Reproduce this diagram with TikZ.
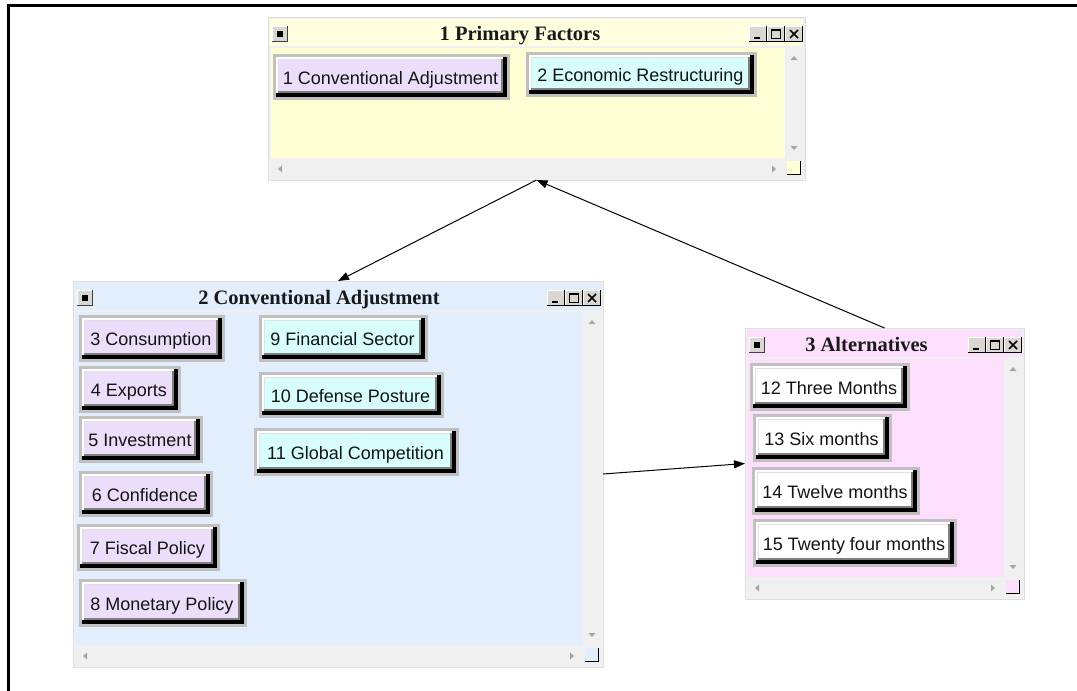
\documentclass[tikz,border=0pt]{standalone}
\usepackage{fontspec}
\setmainfont{Liberation Serif}
\newfontfamily\btnfont{Liberation Sans}
\usetikzlibrary{arrows.meta}
\definecolor{lav}{RGB}{236,222,250}
\definecolor{cya}{RGB}{216,253,253}
\definecolor{ylw}{RGB}{255,255,214}
\definecolor{ylwt}{RGB}{255,255,224}
\definecolor{blu}{RGB}{227,238,252}
\definecolor{pnk}{RGB}{253,222,253}
\definecolor{sgrey}{RGB}{240,240,240}
\definecolor{wborder}{RGB}{222,222,222}
\definecolor{bframe}{RGB}{192,192,192}
\definecolor{bshade}{RGB}{128,128,128}
\definecolor{bhi}{RGB}{225,225,225}
\definecolor{arrgrey}{RGB}{165,165,165}
\definecolor{icongrey}{RGB}{218,215,210}
\tikzset{
  win/.style={draw=wborder, fill=sgrey, inner sep=0pt, outer sep=0pt, line width=1pt},
  btntext/.style={inner sep=0pt, anchor=base, text=black!92, font=\btnfont\fontsize{18}{20}\selectfont},
  ttl/.style={inner sep=0pt, anchor=base, text=black!90, font=\bfseries\fontsize{20.5}{24}\selectfont},
  conn/.style={draw=black, line width=1pt, -{Triangle[length=11pt,width=8pt]}},
}
\newcommand{\mkbtn}[7]{%
  \fill[bframe] (#2,#3) rectangle (#4,#5);
  \fill[black] ({#2+3},{#3+3}) rectangle ({#4-3},{#5-3});
  \fill[white] ({#2+3},{#3+3}) rectangle ({#4-7},{#5-7});
  \fill[bshade] ({#2+5},{#3+5}) rectangle ({#4-7},{#5-7});
  \fill[bhi] ({#2+5},{#3+5}) rectangle ({#4-9},{#5-9});
  \fill[#6] ({#2+6},{#3+6}) rectangle ({#4-9},{#5-9});
  \node[btntext] (#1) at ({(#2+#4)/2-1},{(#3+#5)/2+7}) {#7};
}
\newcommand{\closeicon}[2]{%
  \fill[black!75] (#1,#2) rectangle ({#1+16},{#2+16});
  \fill[white] (#1,#2) rectangle ({#1+15},{#2+15});
  \fill[icongrey] ({#1+1},{#2+1}) rectangle ({#1+15},{#2+15});
  \fill[black] ({#1+5},{#2+5}) rectangle ({#1+11},{#2+11});
}
\newcommand{\onectrl}[2]{%
  \fill[black] (#1,#2) rectangle ({#1+18},{#2+16});
  \fill[white] (#1,#2) rectangle ({#1+17},{#2+15});
  \fill[icongrey] ({#1+1},{#2+1}) rectangle ({#1+17},{#2+15});
}
\newcommand{\ctrlicons}[2]{%
  \onectrl{#1}{#2}\onectrl{#1+18}{#2}\onectrl{#1+36}{#2}
  \draw[line width=2pt] ({#1+5},{#2+11.5}) -- ({#1+11},{#2+11.5});
  \draw[line width=1pt] ({#1+22.5},{#2+3.5}) rectangle ({#1+31.5},{#2+12.5});
  \draw[line width=2pt] ({#1+22.5},{#2+4}) -- ({#1+31.5},{#2+4});
  \draw[line width=1.6pt] ({#1+41},{#2+4}) -- ({#1+49},{#2+12}) ({#1+49},{#2+4}) -- ({#1+41},{#2+12});
}
% name, x1, y1, x2, y2, body colour, title bar colour, title, title centre x
\newcommand{\mkwin}[9]{%
  \pgfmathsetmacro\ww{#4-#2}\pgfmathsetmacro\hh{#5-#3}
  \node[win, minimum width=\ww pt, minimum height=\hh pt] (#1) at ({(#2+#4)/2},{(#3+#5)/2}) {};
  \fill[#7] ({#2+2},{#3+2}) rectangle ({#4-2},{#3+29});
  \fill[#6] ({#2+3},{#3+31}) rectangle ({#4-20},{#5-22});
  \closeicon{#2+4}{#3+9}
  \ctrlicons{#4-56}{#3+9}
  \node[ttl] (#1-title) at (#9,{#3+23.5}) {#8};
  \fill[arrgrey] ({#4-14.5},{#3+43}) -- ({#4-7.5},{#3+43}) -- ({#4-11},{#3+39}) -- cycle;
  \fill[arrgrey] ({#4-14.5},{#5-34}) -- ({#4-7.5},{#5-34}) -- ({#4-11},{#5-30}) -- cycle;
  \fill[arrgrey] ({#2+14},{#5-14.5}) -- ({#2+14},{#5-7.5}) -- ({#2+10},{#5-11}) -- cycle;
  \fill[arrgrey] ({#4-33},{#5-14.5}) -- ({#4-33},{#5-7.5}) -- ({#4-29},{#5-11}) -- cycle;
  \fill[#6] ({#4-18},{#5-19}) rectangle ({#4-4},{#5-5});
  \draw[line width=1.5pt] ({#4-4.75},{#5-19}) -- ({#4-4.75},{#5-5.75}) -- ({#4-18},{#5-5.75});
}
\begin{document}
\begin{tikzpicture}[x=1pt,y=-1pt]
\useasboundingbox[fill=white] (0,0) rectangle (1077,691);
\fill[black] (7,4) rectangle (1077,7);
\fill[black] (7,4) rectangle (10,691);

\mkwin{w1}{268}{17}{805}{180}{ylw}{ylwt}{1 Primary Factors}{520}
\mkwin{w2}{73}{281}{603}{667}{blu}{blu}{2 Conventional Adjustment}{319}
\mkwin{w3}{745}{328}{1024}{599}{pnk}{pnk}{3 Alternatives}{866.5}

\mkbtn{b1}{273}{54}{510}{100}{lav}{1 Conventional Adjustment}
\mkbtn{b2}{526}{52}{757}{97}{cya}{2 Economic Restructuring}

\mkbtn{b3}{79}{315}{225}{362}{lav}{3 Consumption}
\mkbtn{b4}{79}{366}{181}{413}{lav}{4 Exports}
\mkbtn{b5}{79}{416}{203}{463}{lav}{5 Investment}
\mkbtn{b6}{79}{471}{213}{517}{lav}{6 Confidence}
\mkbtn{b7}{77}{524}{220}{571}{lav}{7 Fiscal Policy}
\mkbtn{b8}{79}{579}{247}{627}{lav}{8 Monetary Policy}
\mkbtn{b9}{259}{315}{428}{362}{cya}{9 Financial Sector}
\mkbtn{b10}{259}{372}{444}{418}{cya}{10 Defense Posture}
\mkbtn{b11}{254}{428}{459}{476}{cya}{11 Global Competition}

\mkbtn{b12}{750}{363}{910}{411}{white}{12 Three Months}
\mkbtn{b13}{753}{414}{892}{462}{white}{13 Six months}
\mkbtn{b14}{752}{467}{920}{515}{white}{14 Twelve months}
\mkbtn{b15}{753}{519}{957}{567}{white}{15 Twenty four months}

\draw[conn] (w1.south) -- (w2.north);
\draw[conn] (w3.north) -- (w1.south);
\draw[conn] (w2.east) -- (w3.west);
\end{tikzpicture}
\end{document}
